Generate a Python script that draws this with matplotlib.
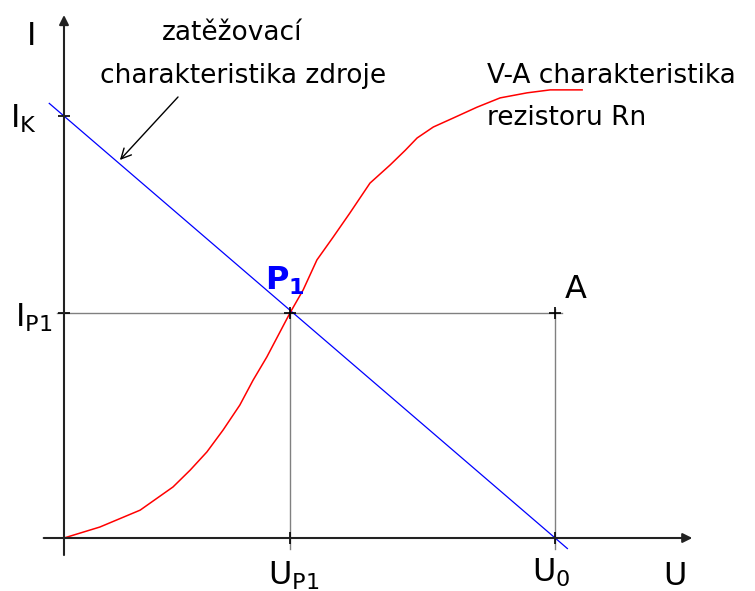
import matplotlib.pyplot as plt

# operating point diagram, U0 = 10 and IK = 10 (arbitrary units)
U0 = 10.0
IK = 10.0
UP1 = 4.60
IP1 = 5.33

# load line of the source, drawn a bit past both ends
load_u = [-0.3, 10.25]
load_i = [IK - IK / U0 * u for u in load_u]

# V-A characteristic of resistor Rn
va_u = [0.0, 0.73, 1.55, 2.22, 2.57, 2.91, 3.24, 3.58, 3.85, 4.13, 4.60,
        4.87, 5.15, 5.48, 5.82, 6.23, 6.64, 6.95, 7.19, 7.52, 7.92, 8.41,
        8.88, 9.43, 9.90, 10.55]
va_i = [0.0, 0.26, 0.66, 1.21, 1.61, 2.04, 2.56, 3.15, 3.74, 4.29, 5.33,
        5.88, 6.59, 7.13, 7.70, 8.41, 8.84, 9.19, 9.48, 9.74, 9.95, 10.21,
        10.43, 10.55, 10.62, 10.62]

fig = plt.figure(figsize=(7.55, 5.91), dpi=100)
ax = fig.add_axes([0, 0, 1, 1])
ax.set_xlim(-1.303, 14.07)
ax.set_ylim(-1.256, 12.75)
ax.axis('off')

# axes with arrows
ax.annotate('', xy=(12.85, 0), xytext=(-0.47, 0),
            arrowprops=dict(arrowstyle='-|>', color='#222222', lw=1.5,
                            mutation_scale=14))
ax.annotate('', xy=(0, 12.46), xytext=(0, -0.47),
            arrowprops=dict(arrowstyle='-|>', color='#222222', lw=1.5,
                            mutation_scale=14))

# helper lines to P1 and A
ax.plot([-0.15, U0 + 0.15], [IP1, IP1], color='#808080', lw=1)
ax.plot([UP1, UP1], [-0.25, IP1 + 0.1], color='#808080', lw=1)
ax.plot([U0, U0], [-0.25, IP1 + 0.1], color='#808080', lw=1)

ax.plot(load_u, load_i, color='#0000ff', lw=0.9)
ax.plot(va_u, va_i, color='#ff0000', lw=1.1)

# little crosses
ax.plot([0, 0, UP1, U0, UP1, U0], [IK, IP1, IP1, IP1, 0, 0], '+',
        color='black', ms=9, mew=1.2)

# labels
big = 23
ax.text(-0.75, 11.68, 'I', fontsize=big, va='baseline')
ax.text(12.2, -1.11, 'U', fontsize=big, va='baseline')
ax.text(-1.10, 9.72, r'$\mathregular{I_K}$', fontsize=big, va='baseline')
ax.text(-1.0, 5.02, r'$\mathregular{I_{P1}}$', fontsize=big, va='baseline')
ax.text(4.15, -1.11, r'$\mathregular{U_{P1}}$', fontsize=big, va='baseline')
ax.text(9.53, -1.04, r'$\mathregular{U_0}$', fontsize=big, va='baseline')
ax.text(10.2, 5.69, 'A', fontsize=big, va='baseline')
ax.text(4.09, 5.88, r'$\mathregular{\mathbf{P_1}}$', fontsize=big,
        color='#0000ff', fontweight='bold', va='baseline')

small = 19
ax.text(3.42, 11.80, 'zatěžovací', fontsize=small, ha='center', va='baseline')
ax.text(3.65, 10.78, 'charakteristika zdroje', fontsize=small, ha='center',
        va='baseline')
ax.text(8.61, 10.78, 'V-A charakteristika', fontsize=small, va='baseline')
ax.text(8.61, 9.79, 'rezistoru Rn', fontsize=small, va='baseline')

ax.annotate('', xy=(1.10, 8.91), xytext=(2.36, 10.50),
            arrowprops=dict(arrowstyle='->', color='black', lw=1,
                            mutation_scale=18))

fig.savefig('out.png', dpi=100)
